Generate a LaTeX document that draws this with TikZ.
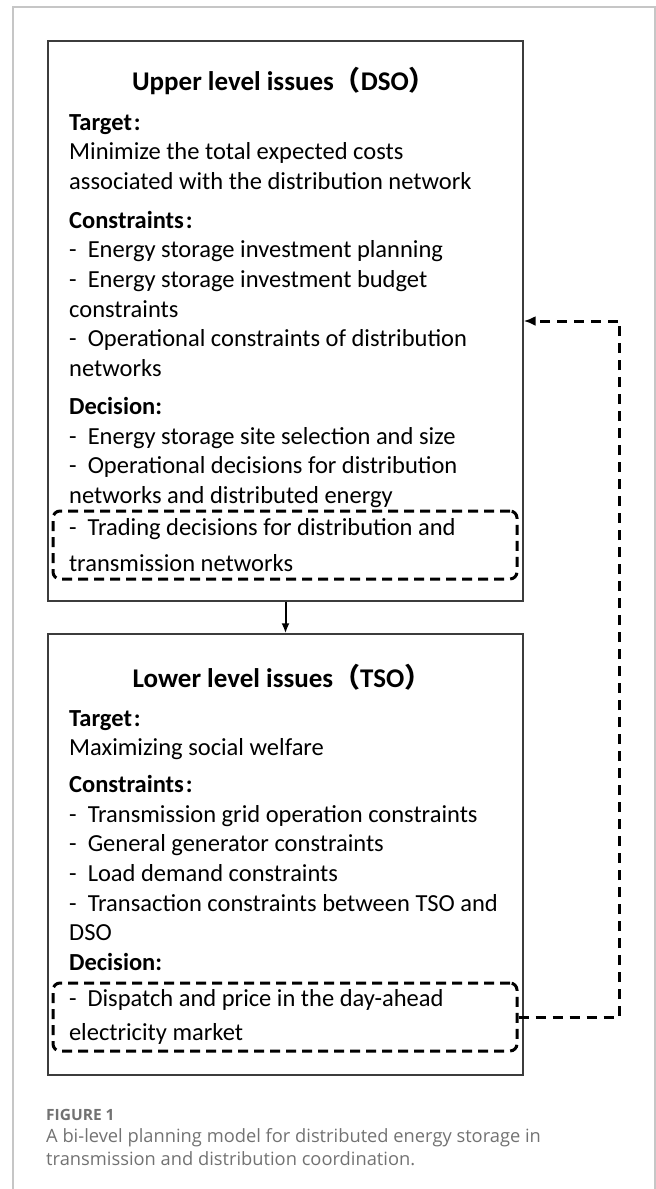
\documentclass[tikz,border=0pt]{standalone}
\usepackage{fontspec}
\setmainfont{Carlito}
\newfontfamily\cjk{Noto Sans CJK SC}
\newfontfamily\capfont{Open Sans}
\usepackage{tikz}
\usetikzlibrary{arrows.meta,positioning}
\definecolor{lvLine}{HTML}{3C3C3C}
\definecolor{frLine}{HTML}{C6C6C6}
\definecolor{capGray}{HTML}{727272}
\newcommand{\fw}[1]{{\cjk #1}}
\newcommand{\hd}[1]{\textbf{#1\hspace{2pt}:}}

\begin{document}
\begin{tikzpicture}[x=1pt,y=-1pt,
  lvl/.style={draw=lvLine,line width=1.4pt,minimum width=475pt,inner sep=0pt},
  ttl/.style={font=\fontsize{27}{32}\selectfont\bfseries,inner sep=0pt},
  txt/.style={font=\fontsize{24.5}{29.7}\selectfont,align=left,inner sep=0pt},
  dsh/.style={draw,line width=3pt,dash pattern=on 10pt off 6pt,rounded corners=7pt,
    minimum width=464pt,minimum height=68pt,inner xsep=16pt,inner ysep=0pt,
    text width=432pt,align=flush left,font=\fontsize{24.5}{30}\selectfont},
  ar/.style={-{Latex[length=10pt,width=8pt]},line width=2pt},
  fb/.style={-{Latex[length=12pt,width=10pt]},line width=3pt,dash pattern=on 10pt off 7pt},
  captxt/.style={inner sep=0pt,text=capGray,align=left}
]
\useasboundingbox (0,0) rectangle (656,1189);
\draw[frLine,line width=1.3pt] (13,1189) -- (13,7) -- (655,7) -- (655,1189);

% upper level
\node[lvl,minimum height=560pt] (up) at (285.5,321) {};
\node[ttl,anchor=base] (upT) at (284,90) {Upper level issues\fw{（}DSO\fw{）}};
\node[txt,anchor=north west] (upTxt) at (69,114) {%
  \hd{Target}\\
  Minimize the total expected costs\\
  associated with the distribution network\\[9pt]
  \hd{Constraints}\\
  -\ \ Energy storage investment planning\\
  -\ \ Energy storage investment budget\\
  constraints\\
  -\ \ Operational constraints of distribution\\
  networks\\[8pt]
  \textbf{Decision:}\\
  -\ \ Energy storage site selection and size\\
  -\ \ Operational decisions for distribution\\
  networks and distributed energy};
\node[dsh] (upTrade) at (285,545) {-\ \ Trading decisions for distribution and\\[6pt]
  transmission networks};

% lower level
\node[lvl,minimum height=441pt] (lo) at (285.5,854.5) {};
\node[ttl,anchor=base] (loT) at (282,687) {Lower level issues\fw{（}TSO\fw{）}};
\node[txt,anchor=north west] (loTxt) at (69,710) {%
  \hd{Target}\\
  Maximizing social welfare\\[7pt]
  \hd{Constraints}\\
  -\ \ Transmission grid operation constraints\\
  -\ \ General generator constraints\\
  -\ \ Load demand constraints\\
  -\ \ Transaction constraints between TSO and\\
  DSO\\
  \textbf{Decision:}};
\node[dsh] (loTrade) at (285,1017) {-\ \ Dispatch and price in the day-ahead\\[4pt]
  electricity market};

\draw[ar] (up) -- (lo);
\draw[fb] (loTrade.east) -- ++(101,0) |- (up.east);

% caption
\node[captxt,anchor=base west,font=\capfont\fontsize{15.5}{18}\selectfont\bfseries] (capHd) at (46,1120) {FIGURE 1};
\node[captxt,anchor=north west,font=\capfont\fontsize{18.3}{23}\selectfont] (capTx) at (46,1128)
  {A bi-level planning model for distributed energy storage in\\
   transmission and distribution coordination.};
\end{tikzpicture}
\end{document}
